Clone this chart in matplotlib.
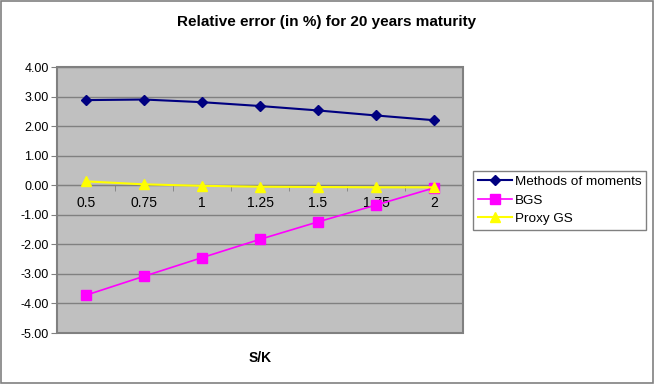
import matplotlib
matplotlib.use("Agg")
import matplotlib.pyplot as plt
from matplotlib.patches import Rectangle

plt.rcParams['font.family'] = ['Liberation Sans', 'DejaVu Sans']

sk = ["0.5", "0.75", "1", "1.25", "1.5", "1.75", "2"]
moments = [2.88, 2.90, 2.81, 2.68, 2.53, 2.36, 2.20]
bgs = [-3.72, -3.08, -2.45, -1.83, -1.24, -0.67, -0.09]
proxy_gs = [0.13, 0.03, -0.02, -0.05, -0.06, -0.07, -0.07]

fig = plt.figure(figsize=(6.54, 3.84), dpi=100)
ax = fig.add_axes([0.0872, 0.1328, 0.6208, 0.6927])
ax.set_facecolor("#C0C0C0")

x = range(len(sk))
ax.plot(x, moments, color="#000080", lw=1.5, marker="D", ms=5.5, label="Methods of moments", zorder=3)
ax.plot(x, bgs, color="#FF00FF", lw=1.2, marker="s", ms=6.5, label="BGS", zorder=3)
ax.plot(x, proxy_gs, color="#FFFF00", lw=1.5, marker="^", ms=7.5, label="Proxy GS", zorder=4)

ax.set_xlim(-0.5, len(sk) - 0.5)
ax.set_ylim(-5, 4)
ax.set_yticks(range(-5, 5))
ax.set_yticklabels(["%.2f" % v for v in range(-5, 5)], fontsize=9)
ax.yaxis.grid(True, color="#808080", lw=1)
ax.set_axisbelow(True)
ax.tick_params(axis="y", length=4, color="#808080", pad=2)

ax.set_xticks(list(x))
ax.set_xticklabels(sk, fontsize=9)
ax.set_xticks([i + 0.5 for i in range(len(sk) - 1)], minor=True)
ax.tick_params(axis="x", which="major", length=0, pad=8)
ax.tick_params(axis="x", which="minor", length=4, color="#808080", direction="out")

for s in ["top", "right", "left"]:
    ax.spines[s].set_visible(False)
ax.spines["bottom"].set_position(("data", 0))
ax.spines["bottom"].set_color("#808080")
ax.add_patch(Rectangle((0, 0), 1, 1, transform=ax.transAxes, fill=False,
                       edgecolor="#808080", lw=1.5, clip_on=False, zorder=5))

fig.text(0.5, 1 - 22 / 384, "Relative error (in %) for 20 years maturity",
         fontsize=11, fontweight="bold", ha="center", va="center")
fig.text(0.0872 + 0.6208 / 2, 1 - 358 / 384, "S/K", fontsize=10,
         fontweight="bold", ha="center", va="center")

leg = fig.legend(loc="center left", bbox_to_anchor=(0.724, 0.478), fontsize=9.7,
                 fancybox=False, edgecolor="#808080", framealpha=1,
                 handlelength=2.5, handletextpad=0.2, borderpad=0.35,
                 labelspacing=0.45, borderaxespad=0)
leg.get_frame().set_linewidth(1)

fig.patches.append(Rectangle((0.002, 0.003), 0.996, 0.994, transform=fig.transFigure,
                             fill=False, edgecolor="#808080", lw=1.2))

fig.savefig("out.png", dpi=100)
